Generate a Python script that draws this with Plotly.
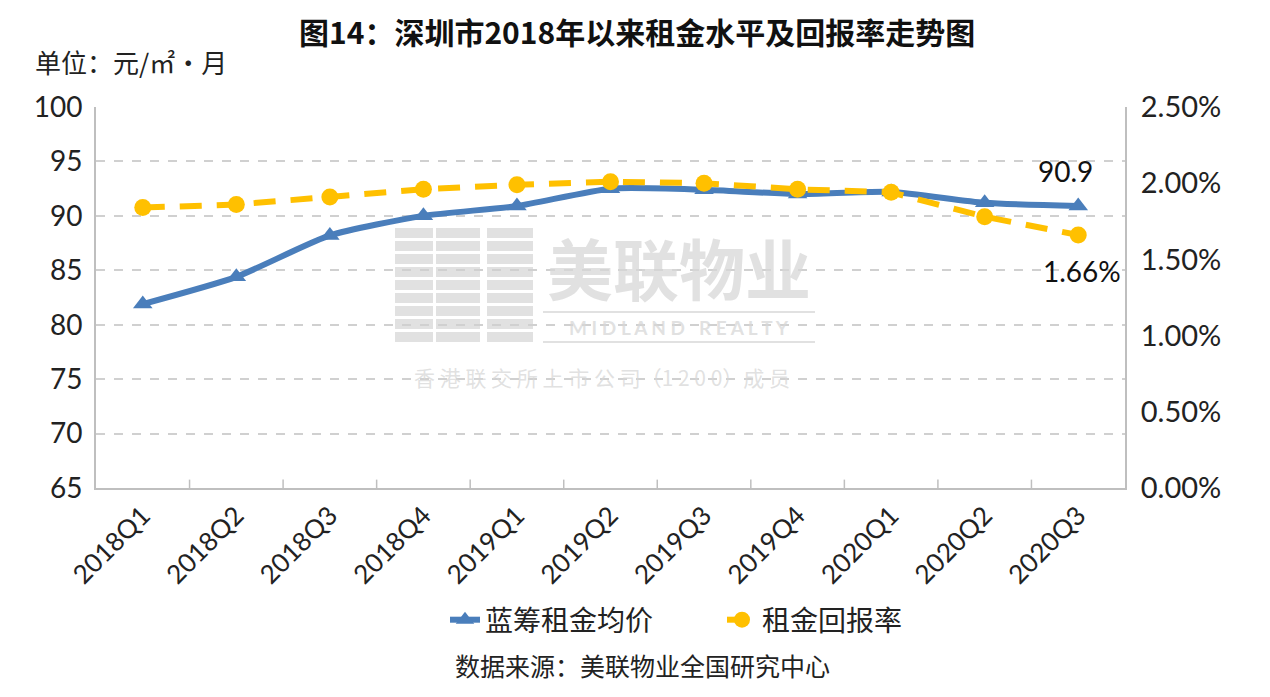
import plotly.graph_objects as go

categories = ["2018Q1", "2018Q2", "2018Q3", "2018Q4", "2019Q1", "2019Q2",
              "2019Q3", "2019Q4", "2020Q1", "2020Q2", "2020Q3"]
rent_price = [81.9, 84.4, 88.2, 90.0, 90.9, 92.5, 92.4, 92.0, 92.2, 91.2, 90.9]
rent_yield = [0.0184, 0.0186, 0.0191, 0.0196, 0.0199, 0.0201, 0.0200, 0.0196, 0.0194, 0.0178, 0.0166]
left_ticks = [65, 70, 75, 80, 85, 90, 95, 100]
right_ticks = [0, 0.005, 0.01, 0.015, 0.02, 0.025]

BLUE = "#4a7ebb"
YELLOW = "#ffc000"
FONT = "Lato, Noto Sans CJK SC, sans-serif"
CJK = "Noto Sans CJK SC, sans-serif"
WM = "rgba(215,215,215,0.75)"

W, H = 1254, 681
L, R, T, B = 88, 137, 99, 201
PW = W - L - R
PH = H - T - B


def px(fx):
    return (fx - L) / PW


def py(fy):
    return (H - B - fy) / PH


fig = go.Figure()
fig.add_trace(go.Scatter(
    x=categories, y=rent_price, name="蓝筹租金均价", mode="lines+markers",
    line=dict(color=BLUE, width=6, shape="spline", smoothing=0.6),
    marker=dict(symbol="triangle-up", size=17, color=BLUE),
    yaxis="y",
))
fig.add_trace(go.Scatter(
    x=categories, y=rent_yield, name="租金回报率", mode="lines+markers",
    line=dict(color=YELLOW, width=6, dash="22px,15px"),
    marker=dict(symbol="circle", size=17, color=YELLOW),
    yaxis="y2",
))

fig.update_layout(
    width=W, height=H,
    margin=dict(l=L, r=R, t=T, b=B),
    paper_bgcolor="white", plot_bgcolor="white",
    font=dict(family=FONT, size=22, color="#222222"),
    showlegend=True,
    legend=dict(orientation="h", x=px(437), xanchor="left", y=py(612), yanchor="middle",
                font=dict(family=CJK, size=28, color="#222222"),
                entrywidth=232, entrywidthmode="pixels",
                traceorder="normal"),
    xaxis=dict(
        type="category", range=[-0.5, 10.5], tickangle=-45,
        showgrid=False, showline=True, linecolor="#bfbfbf", linewidth=2,
        ticks="", tickfont=dict(family=FONT, size=26, color="#222222"),
    ),
    yaxis=dict(
        range=[65, 100], tickvals=left_ticks, showgrid=True,
        gridcolor="#d0d0d0", griddash="dash", gridwidth=1.5,
        showline=True, linecolor="#bfbfbf", linewidth=2,
        ticks="", ticklabelstandoff=6,
        tickfont=dict(family=FONT, size=28, color="#222222"), zeroline=False,
    ),
    yaxis2=dict(
        range=[0, 0.025], tickvals=right_ticks, tickformat=".2%",
        overlaying="y", side="right", showgrid=False,
        showline=True, linecolor="#bfbfbf", linewidth=2,
        ticks="", ticklabelstandoff=8,
        tickfont=dict(family=FONT, size=29, color="#222222"), zeroline=False,
    ),
)

# vertical category boundary ticks (inside) along x-axis
for i in range(len(categories) - 1):
    fig.add_shape(type="line", xref="x", yref="paper", x0=i + 0.5, x1=i + 0.5,
                  y0=0, y1=0.022, line=dict(color="#bfbfbf", width=1.5))

# watermark logo (striped arches)
cols = [(387, 425), (428, 472), (479, 525)]
for ci, (x0, x1) in enumerate(cols):
    for k in range(9):
        y0 = 220 + k * 13
        fig.add_shape(type="rect", xref="paper", yref="paper", layer="below",
                      x0=px(x0), x1=px(x1), y0=py(y0 + 10), y1=py(y0),
                      fillcolor=WM, line=dict(width=0))
fig.add_shape(type="line", xref="paper", yref="paper", layer="below",
              x0=px(535), x1=px(807), y0=py(304), y1=py(304), line=dict(color=WM, width=2))
fig.add_shape(type="line", xref="paper", yref="paper", layer="below",
              x0=px(535), x1=px(807), y0=py(334), y1=py(334), line=dict(color=WM, width=2))
fig.add_annotation(xref="paper", yref="paper", x=px(671), y=py(258), text="<b>美联物业</b>",
                   showarrow=False, font=dict(family=CJK, size=66, color=WM),
                   xanchor="center", yanchor="middle")
fig.add_annotation(xref="paper", yref="paper", x=px(671), y=py(319),
                   text="<b>M I D L A N D   R E A L T Y</b>",
                   showarrow=False, font=dict(family=FONT, size=19, color=WM),
                   xanchor="center", yanchor="middle")
fig.add_annotation(xref="paper", yref="paper", x=px(594), y=py(369),
                   text="香 港 联 交 所 上 市 公 司（1 2 0 0）成 员",
                   showarrow=False, font=dict(family=CJK, size=21, color=WM),
                   xanchor="center", yanchor="middle")

# data labels
fig.add_annotation(x=categories[-1], y=rent_price[-1], xref="x", yref="y",
                   text=f"{rent_price[-1]:.1f}", showarrow=False, yshift=35, xshift=-13,
                   font=dict(family=FONT, size=28, color="#111111"))
fig.add_annotation(x=categories[-1], y=rent_yield[-1], xref="x", yref="y2",
                   text=f"{rent_yield[-1]*100:.2f}%", showarrow=False, yshift=-36, xshift=4,
                   font=dict(family=FONT, size=28, color="#111111"))

# title, unit, source
fig.add_annotation(xref="paper", yref="paper", x=px(629), y=py(0),
                   text="<b>图14：深圳市2018年以来租金水平及回报率走势图</b>",
                   showarrow=False, xanchor="center", yanchor="top", borderpad=0,
                   font=dict(family=CJK, size=30, color="#111111"))
fig.add_annotation(xref="paper", yref="paper", x=px(25), y=py(54),
                   text="单位：元/㎡·月", showarrow=False, xanchor="left", yanchor="middle",
                   font=dict(family=CJK, size=26, color="#222222"))
fig.add_annotation(xref="paper", yref="paper", x=px(634), y=py(657),
                   text="数据来源：美联物业全国研究中心", showarrow=False,
                   xanchor="center", yanchor="middle",
                   font=dict(family=CJK, size=25, color="#222222"))

fig.write_html("out.html")
